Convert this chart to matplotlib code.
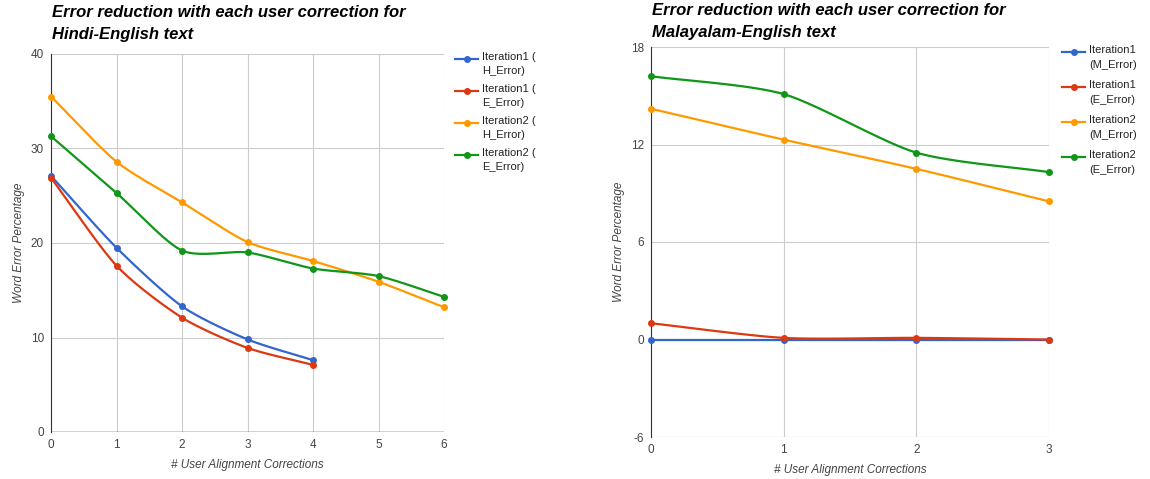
import numpy as np
import matplotlib.pyplot as plt
from matplotlib.lines import Line2D

plt.rcParams['font.family'] = ['Liberation Sans', 'DejaVu Sans']
plt.rcParams['axes.unicode_minus'] = False

# Hindi-English data
hi_x = [0, 1, 2, 3, 4, 5, 6]
hi_it1_h = [27.1, 19.5, 13.3, 9.8, 7.6]
hi_it1_e = [26.9, 17.6, 12.1, 8.9, 7.1]
hi_it2_h = [35.5, 28.6, 24.3, 20.1, 18.1, 15.9, 13.2]
hi_it2_e = [31.3, 25.3, 19.2, 19.0, 17.3, 16.5, 14.3]
hi_labels = ['Iteration1 (\nH_Error)', 'Iteration1 (\nE_Error)',
             'Iteration2 (\nH_Error)', 'Iteration2 (\nE_Error)']
hi_title = ['Error reduction with each user correction for', 'Hindi-English text']

# Malayalam-English data
ml_x = [0, 1, 2, 3]
ml_it1_m = [0.0, 0.0, 0.0, 0.0]
ml_it1_e = [1.0, 0.1, 0.1, 0.0]
ml_it2_m = [14.2, 12.3, 10.5, 8.5]
ml_it2_e = [16.2, 15.1, 11.5, 10.3]
ml_labels = ['Iteration1\n(M_Error)', 'Iteration1\n(E_Error)',
             'Iteration2\n(M_Error)', 'Iteration2\n(E_Error)']
ml_title = ['Error reduction with each user correction for', 'Malayalam-English text']

colors = ['#3366cc', '#dc3912', '#ff9900', '#109618']
grey = '#444444'
W, H = 1150, 479


def smooth(x, y, n=30, k=0.75):
    # cardinal spline through the points (like Google's curveType 'function')
    x = np.asarray(x, float)
    y = np.asarray(y, float)
    if len(x) < 3:
        return x, y
    px = np.concatenate([[2 * x[0] - x[1]], x, [2 * x[-1] - x[-2]]])
    py = np.concatenate([[2 * y[0] - y[1]], y, [2 * y[-1] - y[-2]]])
    xs, ys = [], []
    for i in range(1, len(px) - 2):
        t = np.linspace(0, 1, n)
        mx0 = k * (px[i + 1] - px[i - 1]) / 2
        mx1 = k * (px[i + 2] - px[i]) / 2
        my0 = k * (py[i + 1] - py[i - 1]) / 2
        my1 = k * (py[i + 2] - py[i]) / 2
        h00 = 2 * t**3 - 3 * t**2 + 1
        h10 = t**3 - 2 * t**2 + t
        h01 = -2 * t**3 + 3 * t**2
        h11 = t**3 - t**2
        xs.append(h00 * px[i] + h10 * mx0 + h01 * px[i + 1] + h11 * mx1)
        ys.append(h00 * py[i] + h10 * my0 + h01 * py[i + 1] + h11 * my1)
    return np.concatenate(xs), np.concatenate(ys)


def legend(fig, x0, y0, step, labels, lsp):
    for i, (lab, c) in enumerate(zip(labels, colors)):
        y = 1 - (y0 + i * step) / H
        fig.add_artist(Line2D([x0 / W, (x0 + 23) / W], [y, y], color=c, lw=1.6))
        fig.add_artist(Line2D([(x0 + 11.5) / W], [y], marker='o', color=c, ms=4))
        fig.text((x0 + 27) / W, y + 7 / H, lab, fontsize=8, color='#222222',
                 va='top', ha='left', linespacing=lsp)


def draw(fig, ax, x, series, title, ylim, yticks, xticks, tx, ty):
    for s, c in zip(series, colors):
        xx = x[:len(s)]
        sx, sy = smooth(xx, s)
        ax.plot(sx, sy, color=c, lw=1.6, zorder=3, clip_on=False)
        ax.plot(xx, s, 'o', color=c, ms=4, zorder=4, clip_on=False)
    ax.set_xlim(xticks[0], xticks[-1])
    ax.set_ylim(*ylim)
    ax.set_xticks(xticks)
    ax.set_yticks(yticks)
    ax.grid(True, color='#cccccc', lw=0.8)
    ax.set_axisbelow(True)
    for sp in ['top', 'right', 'bottom']:
        ax.spines[sp].set_visible(False)
    ax.spines['left'].set_color('#333333')
    ax.axhline(ylim[0], color='#cccccc', lw=0.8, zorder=1)
    if ylim[0] == 0:
        ax.axhline(0, color='#333333', lw=1, zorder=2)
    ax.tick_params(length=0, labelsize=8.5, colors=grey, pad=5)
    ax.set_xlabel('# User Alignment Corrections', fontsize=8.5,
                  style='italic', color=grey, labelpad=6)
    ax.set_ylabel('Word Error Percentage', fontsize=8.5,
                  style='italic', color=grey, labelpad=4)
    for j, line in enumerate(title):
        fig.text(tx / W, 1 - (ty + 22 * j) / H, line, fontsize=12,
                 fontweight='bold', style='italic', va='baseline', ha='left')


fig = plt.figure(figsize=(11.5, 4.79), dpi=100)
ax1 = fig.add_axes([51 / W, 1 - 432 / H, 393 / W, 378 / H])
ax2 = fig.add_axes([651 / W, 1 - 437 / H, 398 / W, 390 / H])

draw(fig, ax1, hi_x, [hi_it1_h, hi_it1_e, hi_it2_h, hi_it2_e], hi_title,
     (0, 40), [0, 10, 20, 30, 40], [0, 1, 2, 3, 4, 5, 6], 52, 17)
draw(fig, ax2, ml_x, [ml_it1_m, ml_it1_e, ml_it2_m, ml_it2_e], ml_title,
     (-6, 18), [-6, 0, 6, 12, 18], [0, 1, 2, 3], 652, 15)

legend(fig, 455, 59, 32, hi_labels, 1.45)
legend(fig, 1062, 52, 35, ml_labels, 1.65)

fig.savefig('out.png', dpi=100)
